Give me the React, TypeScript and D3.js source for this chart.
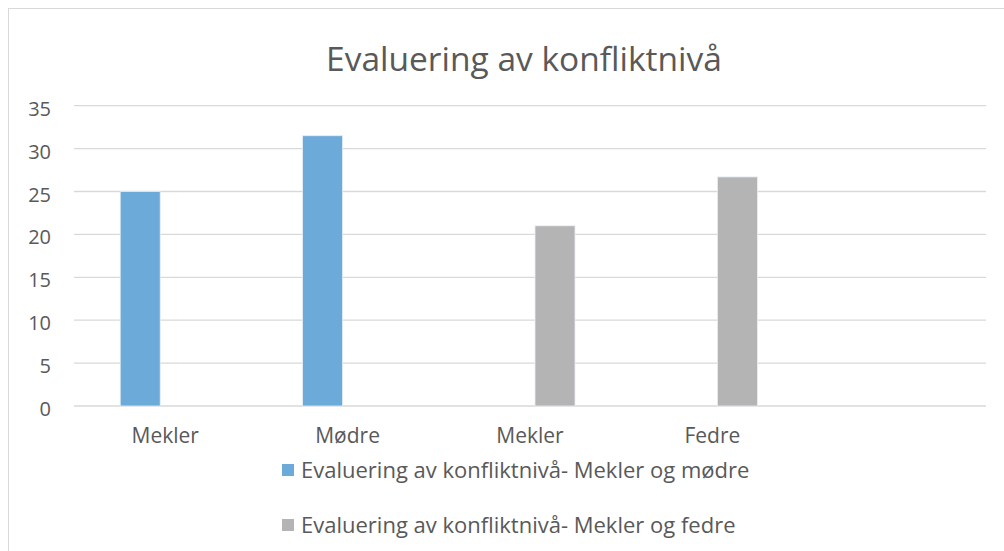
import React from "react";
import * as d3 from "d3";

const categories = ["Mekler", "Mødre", "Mekler", "Fedre", ""];
const seriesNames = [
  "Evaluering av konfliktnivå- Mekler og mødre",
  "Evaluering av konfliktnivå- Mekler og fedre",
];
const modreValues: (number | null)[] = [25, 31.5, null, null, null];
const fedreValues: (number | null)[] = [null, null, 21, 26.7, null];
const yTicks = [0, 5, 10, 15, 20, 25, 30, 35];
const colors = ["#6cabd9", "#b4b4b4"];

const W = 1004;
const H = 551;
const FONT = "'Open Sans', sans-serif";
const TEXT = "#595959";

const App = () => {
  const plot = { left: 74, right: 986, top: 105.7, bottom: 406 };

  const x0 = d3
    .scaleBand<number>()
    .domain(categories.map((_, i) => i))
    .range([plot.left, plot.right])
    .padding(0);

  const x1 = d3
    .scaleBand<number>()
    .domain([0, 1])
    .range([-45, 45])
    .paddingInner(0.2);

  const y = d3.scaleLinear().domain([0, 35]).range([plot.bottom, plot.top]);

  const series = [modreValues, fedreValues];

  return (
    <svg
      width={W}
      height={H}
      style={{ position: "absolute", left: 0, top: 0, background: "#fff" }}
    >
      <rect x={8.5} y={8.5} width={W + 10} height={H + 10} fill="#fff" stroke="#d9d9d9" />

      <text
        x={524}
        y={71}
        textAnchor="middle"
        fontFamily={FONT}
        fontSize={33.5}
        fill={TEXT}
      >
        Evaluering av konfliktnivå
      </text>

      {yTicks.map((t) => (
        <g key={t}>
          <line
            x1={plot.left}
            x2={plot.right}
            y1={y(t)}
            y2={y(t)}
            stroke="#d9d9d9"
            strokeWidth={1.3}
          />
          <text
            x={51}
            y={y(t) + 10}
            textAnchor="end"
            fontFamily={FONT}
            fontSize={20}
            fill={TEXT}
          >
            {t}
          </text>
        </g>
      ))}

      {series.map((vals, s) =>
        vals.map((v, i) =>
          v == null ? null : (
            <rect
              key={`${s}-${i}`}
              x={x0(i)! + x0.bandwidth() / 2 + x1(s)!}
              y={y(v)}
              width={x1.bandwidth()}
              height={y(0) - y(v)}
              fill={colors[s]}
              stroke="#e8eef4"
              strokeWidth={0.8}
            />
          )
        )
      )}

      {categories.map((c, i) => (
        <text
          key={i}
          x={x0(i)! + x0.bandwidth() / 2}
          y={443}
          textAnchor="middle"
          fontFamily={FONT}
          fontSize={21}
          fill={TEXT}
        >
          {c}
        </text>
      ))}

      {seriesNames.map((name, s) => (
        <g key={name} transform={`translate(282,${s === 0 ? 478 : 533})`}>
          <rect x={0} y={-14} width={12} height={12} fill={colors[s]} />
          <text x={19} y={0} fontFamily={FONT} fontSize={22} fill={TEXT}>
            {name}
          </text>
        </g>
      ))}
    </svg>
  );
};

export default App;
